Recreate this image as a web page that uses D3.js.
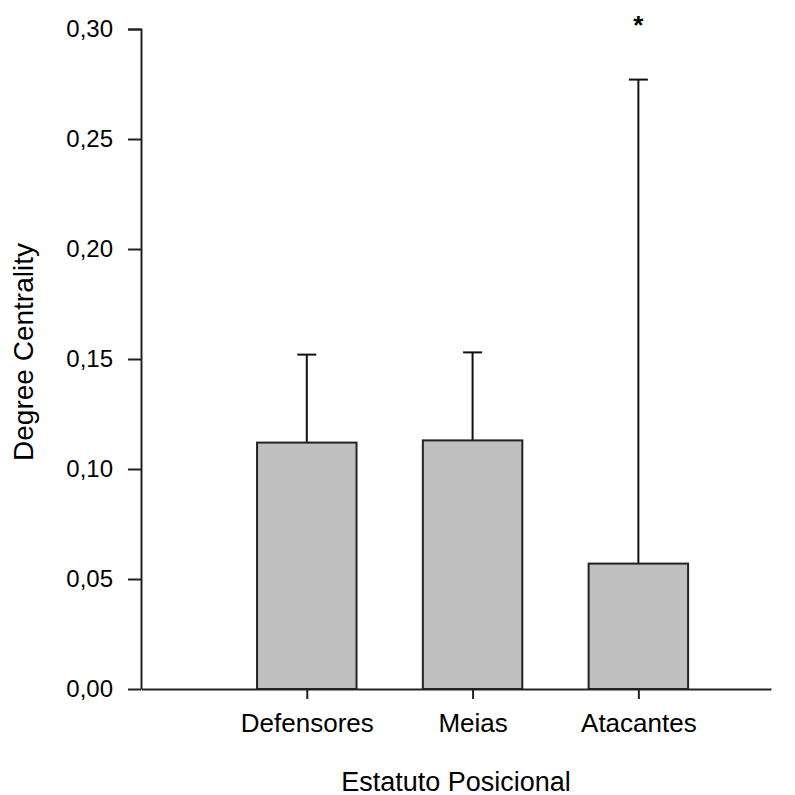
<!DOCTYPE html>
<html>
<head>
<meta charset="utf-8">
<script src="https://cdn.jsdelivr.net/npm/d3@7"></script>
<style>
  body { margin: 0; background: #fff; }
  text { font-family: "Liberation Sans", Arial, sans-serif; fill: #000; }
</style>
</head>
<body>
<svg width="795" height="795"></svg>
<script>
const categories = ['Defensores', 'Meias', 'Atacantes'];
const means = [0.112, 0.113, 0.057];
const errorTops = [0.152, 0.153, 0.277];
const significant = [false, false, true];
const yTicks = [0, 0.05, 0.10, 0.15, 0.20, 0.25, 0.30];

const svg = d3.select('svg');
const margin = {top: 29, right: 24, bottom: 106, left: 141};
const width = 795, height = 795;
const innerWidth = width - margin.left - margin.right;
const innerHeight = height - margin.top - margin.bottom;

const g = svg.append('g')
  .attr('transform', `translate(${margin.left},${margin.top})`);

const x = d3.scaleLinear().domain([0, 3.8]).range([0, innerWidth]);
const y = d3.scaleLinear().domain([0, 0.30]).range([innerHeight, 0]);
const barW = x(0.6) - x(0);
const capW = 19;

const fmt = d => d3.format('.2f')(d).replace('.', ',');

// y axis
const yAxis = g.append('g')
  .call(d3.axisLeft(y).tickValues(yTicks).tickFormat(fmt).tickSize(13).tickPadding(15));
yAxis.select('.domain').attr('d', `M-13,0.5H0.5V${innerHeight}`).attr('stroke', '#222').attr('stroke-width', 2);
yAxis.selectAll('.tick line').attr('stroke', '#222').attr('stroke-width', 2);
yAxis.selectAll('text').attr('font-size', 24).attr('fill', '#000');

// x axis
const xAxis = g.append('g')
  .attr('transform', `translate(0,${innerHeight})`)
  .call(d3.axisBottom(x).tickValues([1, 2, 3]).tickFormat(d => categories[d - 1]).tickSize(10).tickSizeOuter(0).tickPadding(15));
xAxis.select('.domain').attr('stroke', '#222').attr('stroke-width', 2);
xAxis.selectAll('.tick line').attr('stroke', '#222').attr('stroke-width', 2);
xAxis.selectAll('text').attr('font-size', 26).attr('fill', '#000');

const data = categories.map((c, i) => ({c, i: i + 1, m: means[i], e: errorTops[i], s: significant[i]}));

// error bars (behind bars)
g.selectAll('.err').data(data).enter().append('line')
  .attr('x1', d => x(d.i)).attr('x2', d => x(d.i))
  .attr('y1', d => y(d.m)).attr('y2', d => y(d.e))
  .attr('stroke', '#111').attr('stroke-width', 2);
g.selectAll('.cap').data(data).enter().append('line')
  .attr('x1', d => x(d.i) - capW / 2).attr('x2', d => x(d.i) + capW / 2)
  .attr('y1', d => y(d.e)).attr('y2', d => y(d.e))
  .attr('stroke', '#111').attr('stroke-width', 2);

// bars
g.selectAll('.bar').data(data).enter().append('rect')
  .attr('x', d => x(d.i) - barW / 2)
  .attr('y', d => y(d.m))
  .attr('width', barW)
  .attr('height', d => innerHeight - y(d.m))
  .attr('fill', '#c0c0c0')
  .attr('stroke', '#222')
  .attr('stroke-width', 2);

// significance marker
g.selectAll('.star').data(data.filter(d => d.s)).enter().append('text')
  .attr('x', d => x(d.i))
  .attr('y', 5)
  .attr('text-anchor', 'middle')
  .attr('font-size', 26)
  .attr('font-weight', 'bold')
  .text('*');

// axis titles
svg.append('text')
  .attr('x', margin.left + innerWidth / 2)
  .attr('y', 791)
  .attr('text-anchor', 'middle')
  .attr('font-size', 27)
  .text('Estatuto Posicional');

svg.append('text')
  .attr('transform', `translate(33,352) rotate(-90)`)
  .attr('text-anchor', 'middle')
  .attr('font-size', 28)
  .text('Degree Centrality');
</script>
</body>
</html>
